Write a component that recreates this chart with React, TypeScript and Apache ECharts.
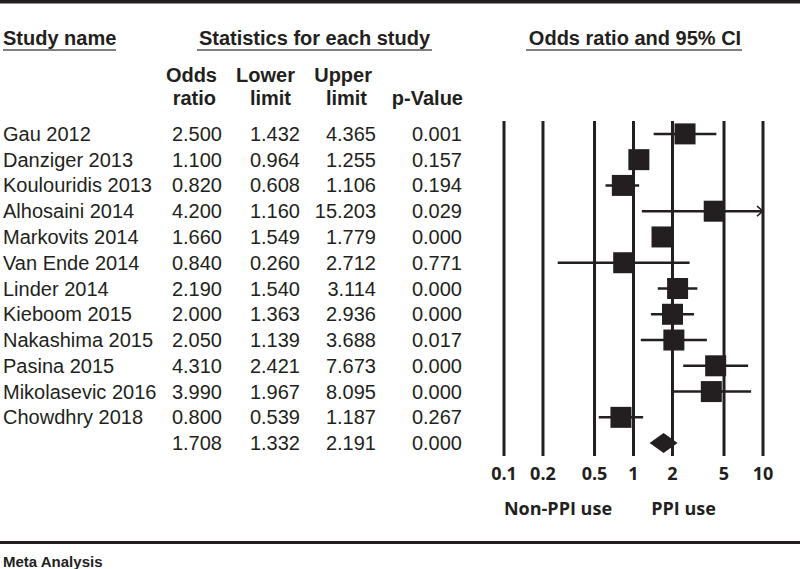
import React, { useEffect, useRef } from "react";
import * as echarts from "echarts";

// ---- data ----
const studies = [
  "Gau 2012",
  "Danziger 2013",
  "Koulouridis 2013",
  "Alhosaini 2014",
  "Markovits 2014",
  "Van Ende 2014",
  "Linder 2014",
  "Kieboom 2015",
  "Nakashima 2015",
  "Pasina 2015",
  "Mikolasevic 2016",
  "Chowdhry 2018",
];
const oddsRatio = [2.5, 1.1, 0.82, 4.2, 1.66, 0.84, 2.19, 2.0, 2.05, 4.31, 3.99, 0.8];
const lowerLimit = [1.432, 0.964, 0.608, 1.16, 1.549, 0.26, 1.54, 1.363, 1.139, 2.421, 1.967, 0.539];
const upperLimit = [4.365, 1.255, 1.106, 15.203, 1.779, 2.712, 3.114, 2.936, 3.688, 7.673, 8.095, 1.187];
const pValues = ["0.001", "0.157", "0.194", "0.029", "0.000", "0.771", "0.000", "0.000", "0.017", "0.000", "0.000", "0.267"];
const summaryStats = [1.708, 1.332, 2.191];
const summaryP = "0.000";
const tickValues = [0.1, 0.2, 0.5, 1, 2, 5, 10];
const tickLabels = ["0.1", "0.2", "0.5", "1", "2", "5", "10"];

// ---- style ----
const INK = "#231f20";
const X_MIN = 0.1;
const X_MAX = 10;
const Y_MIN = -0.5;
const Y_MAX = studies.length + 0.5;
const TABLE_FONT = '"Liberation Sans", Arial, sans-serif';
const AXIS_FONT = '"Open Sans", sans-serif';

export default function App() {
  const ref = useRef<HTMLDivElement>(null);

  useEffect(() => {
    if (!ref.current) return;
    const chart = echarts.init(ref.current, null, { renderer: "svg" });

    const nRows = studies.length;
    const tableNames = [...studies, ""];
    const tableOR = [...oddsRatio, summaryStats[0]];
    const tableLo = [...lowerLimit, summaryStats[1]];
    const tableUp = [...upperLimit, summaryStats[2]];
    const tableP = [...pValues, summaryP];

    const txt = (text: string, x: number, y: number, align: string, opts: any = {}) => ({
      type: "text",
      style: {
        text,
        x,
        y,
        align,
        verticalAlign: "middle",
        fill: INK,
        fontSize: 20,
        fontFamily: TABLE_FONT,
        ...opts,
      },
    });

    const bold = { fontWeight: "bold" };

    const option: any = {
      animation: false,
      backgroundColor: "#ffffff",
      grid: { left: 504, right: 37, top: 121, bottom: 113, containLabel: false },
      xAxis: { type: "log", logBase: 10, min: X_MIN, max: X_MAX, show: false },
      yAxis: { type: "value", min: Y_MIN, max: Y_MAX, inverse: true, show: false },
      series: [
        // vertical reference lines + tick labels
        {
          type: "custom",
          clip: false,
          silent: true,
          z: 1,
          data: tickValues.map((v) => [v, 0]),
          encode: { x: 0, y: 1 },
          renderItem: (params: any, api: any) => {
            const v = api.value(0);
            const top = api.coord([v, Y_MIN]);
            const bot = api.coord([v, Y_MAX]);
            return {
              type: "group",
              children: [
                {
                  type: "line",
                  shape: { x1: top[0], y1: top[1], x2: bot[0], y2: bot[1] },
                  style: { stroke: INK, lineWidth: 3 },
                },
                {
                  type: "text",
                  style: {
                    text: tickLabels[params.dataIndex],
                    x: bot[0],
                    y: bot[1] + 17,
                    align: "center",
                    verticalAlign: "middle",
                    fill: INK,
                    fontSize: 18,
                    fontWeight: "bold",
                    fontFamily: AXIS_FONT,
                  },
                },
              ],
            };
          },
        },
        // study CIs and boxes
        {
          type: "custom",
          clip: false,
          silent: true,
          z: 3,
          data: studies.map((_, i) => [oddsRatio[i], lowerLimit[i], upperLimit[i], i]),
          encode: { x: [0, 1, 2], y: 3 },
          renderItem: (_params: any, api: any) => {
            const or = api.value(0);
            const lo = api.value(1);
            const up = api.value(2);
            const i = api.value(3);
            const pLo = api.coord([Math.max(lo, X_MIN), i]);
            const pUp = api.coord([Math.min(up, X_MAX), i]);
            const pOr = api.coord([or, i]);
            const children: any[] = [
              {
                type: "line",
                shape: { x1: pLo[0], y1: pLo[1], x2: pUp[0], y2: pUp[1] },
                style: { stroke: INK, lineWidth: 2.5 },
              },
            ];
            if (up > X_MAX) {
              children.push({
                type: "polyline",
                shape: {
                  points: [
                    [pUp[0] - 6, pUp[1] - 5],
                    [pUp[0], pUp[1]],
                    [pUp[0] - 6, pUp[1] + 5],
                  ],
                },
                style: { stroke: INK, lineWidth: 1.5, fill: "none" },
              });
            }
            children.push({
              type: "rect",
              shape: { x: pOr[0] - 10.5, y: pOr[1] - 10.5, width: 21, height: 21 },
              style: { fill: INK },
            });
            return { type: "group", children };
          },
        },
        // summary diamond
        {
          type: "custom",
          clip: false,
          silent: true,
          z: 3,
          data: [[summaryStats[0], summaryStats[1], summaryStats[2], nRows]],
          encode: { x: [0, 1, 2], y: 3 },
          renderItem: (_params: any, api: any) => {
            const i = api.value(3);
            const pOr = api.coord([api.value(0), i]);
            const pLo = api.coord([api.value(1), i]);
            const pUp = api.coord([api.value(2), i]);
            return {
              type: "polygon",
              shape: {
                points: [
                  [pLo[0], pLo[1]],
                  [pOr[0], pOr[1] - 10],
                  [pUp[0], pUp[1]],
                  [pOr[0], pOr[1] + 10],
                ],
              },
              style: { fill: INK },
            };
          },
        },
        // table rows
        {
          type: "custom",
          clip: false,
          silent: true,
          z: 2,
          data: tableNames.map((_, i) => [1, i]),
          encode: { x: 0, y: 1 },
          renderItem: (params: any, api: any) => {
            const i = params.dataIndex;
            const y = api.coord([1, api.value(1)])[1];
            return {
              type: "group",
              children: [
                txt(tableNames[i], 3, y, "left"),
                txt(tableOR[i].toFixed(3), 222, y, "right"),
                txt(tableLo[i].toFixed(3), 300, y, "right"),
                txt(tableUp[i].toFixed(3), 376, y, "right"),
                txt(tableP[i], 462, y, "right"),
              ],
            };
          },
        },
      ],
      graphic: [
        // top rule
        { type: "rect", shape: { x: 0, y: 0, width: 800, height: 3.5 }, style: { fill: INK } },
        // headers
        txt("Study name", 3, 38, "left", bold),
        txt("Statistics for each study", 314.5, 38, "center", bold),
        txt("Odds ratio and 95% CI", 635, 38, "center", bold),
        { type: "line", shape: { x1: 3, y1: 50, x2: 116, y2: 50 }, style: { stroke: "#555", lineWidth: 1.5 } },
        { type: "line", shape: { x1: 197, y1: 50, x2: 432, y2: 50 }, style: { stroke: "#555", lineWidth: 1.5 } },
        { type: "line", shape: { x1: 526, y1: 50, x2: 742, y2: 50 }, style: { stroke: "#555", lineWidth: 1.5 } },
        // column headers
        txt("Odds", 217, 75, "right", bold),
        txt("ratio", 216, 98, "right", bold),
        txt("Lower", 295, 75, "right", bold),
        txt("limit", 291, 98, "right", bold),
        txt("Upper", 372, 75, "right", bold),
        txt("limit", 367, 98, "right", bold),
        txt("p-Value", 463, 98, "right", bold),
        // axis direction labels
        txt("Non-PPI use", 558, 508, "center", { fontFamily: AXIS_FONT, fontSize: 18, fontWeight: "bold" }),
        txt("PPI use", 683.5, 508, "center", { fontFamily: AXIS_FONT, fontSize: 18, fontWeight: "bold" }),
        // bottom rule and footer
        { type: "rect", shape: { x: 0, y: 541, width: 800, height: 3 }, style: { fill: INK } },
        txt("Meta Analysis", 3, 561, "left", { fontSize: 15, fontWeight: "bold" }),
      ],
    };

    chart.setOption(option);
    return () => chart.dispose();
  }, []);

  return (
    <div
      ref={ref}
      style={{ position: "fixed", left: 0, top: 0, width: 800, height: 569, background: "#fff" }}
    />
  );
}
